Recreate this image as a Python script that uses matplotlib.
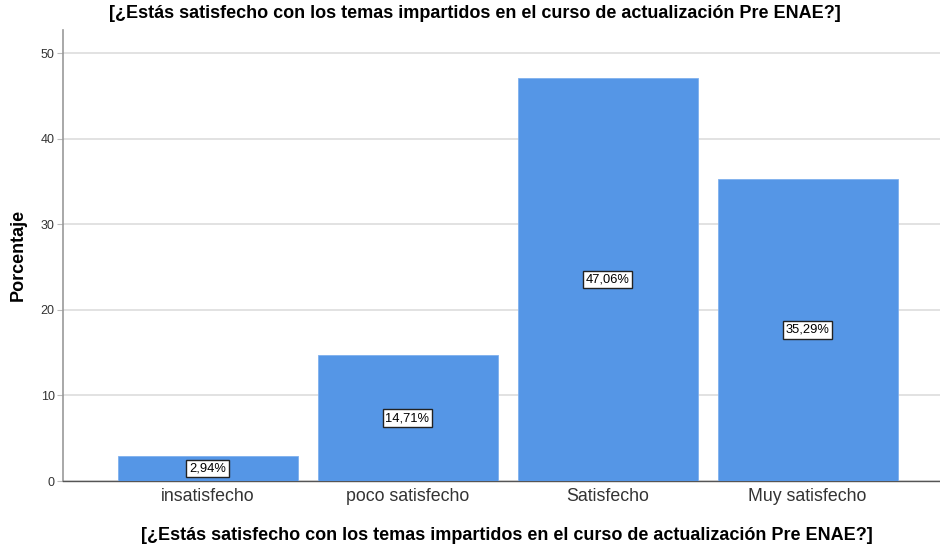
import matplotlib
matplotlib.use("Agg")
import matplotlib.pyplot as plt

categories = ["insatisfecho", "poco satisfecho", "Satisfecho", "Muy satisfecho"]
values = [2.94, 14.71, 47.06, 35.29]
labels = ["2,94%", "14,71%", "47,06%", "35,29%"]
yticks = [0, 10, 20, 30, 40, 50]
title = "[¿Estás satisfecho con los temas impartidos en el curso de actualización Pre ENAE?]"

plt.rcParams['font.family'] = ['Liberation Sans', 'DejaVu Sans']

fig = plt.figure(figsize=(9.4, 5.49), dpi=100)
ax = fig.add_axes([63/940, 1-481/549, 877/940, (481-30)/549])

x = list(range(len(categories)))
ax.bar(x, values, width=0.9, color="#5596e6", edgecolor="#7fb0ee", linewidth=0.6, zorder=3)
for xi, v, lab in zip(x, values, labels):
    ax.text(xi, v/2, lab, ha="center", va="center", fontsize=9.3, color="black", zorder=4,
            bbox=dict(boxstyle="square,pad=0.22", facecolor="white", edgecolor="#222222", linewidth=1.0))

ax.set_xlim(-0.7225, 3.6625)
ax.set_ylim(0, 52.7)
ax.set_yticks(yticks)
ax.set_yticklabels([str(t) for t in yticks], fontsize=9, color="#333333")
ax.set_xticks(x)
ax.set_xticklabels(categories, fontsize=12.8, color="#333333")
ax.tick_params(axis="x", length=0, pad=5)
ax.tick_params(axis="y", length=4, color="#bbbbbb", pad=2)
ax.yaxis.grid(True, color="#dddddd", linewidth=1.2, zorder=0)
ax.set_axisbelow(True)
for s in ["top", "right"]:
    ax.spines[s].set_visible(False)
ax.spines["left"].set_color("#999999")
ax.spines["left"].set_linewidth(1.2)
ax.spines["bottom"].set_color("#555555")
ax.spines["bottom"].set_linewidth(1.0)

fig.text(475/940, 1-14/549, title, ha="center", va="center", fontsize=13, fontweight="bold")
fig.text(507/940, 1-535/549, title, ha="center", va="center", fontsize=13, fontweight="bold")
fig.text(18/940, 1-255/549, "Porcentaje", ha="center", va="center", rotation=90, fontsize=13, fontweight="bold")

fig.savefig("out.png", dpi=100)
